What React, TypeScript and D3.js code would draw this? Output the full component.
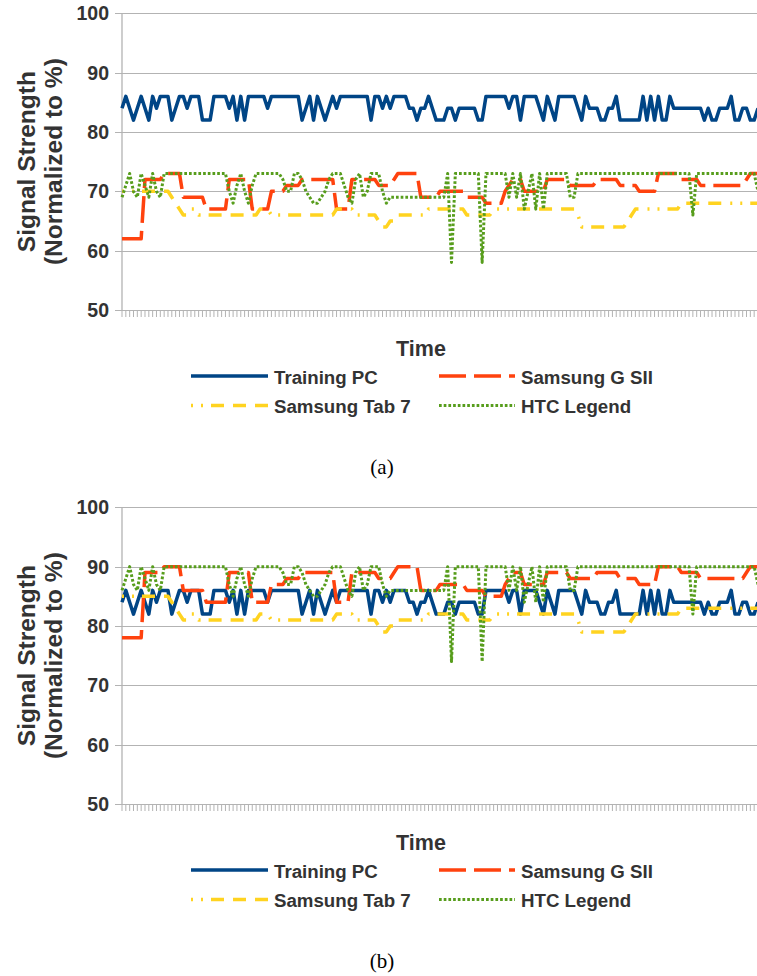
import React from 'react';
import * as d3 from 'd3';

// Signal strength (normalized to %) sampled over time for four devices.
const yTicks = [50, 60, 70, 80, 90, 100];
const seriesNames = ['Training PC', 'Samsung G SII', 'Samsung Tab 7', 'HTC Legend'];
const captions = ['(a)', '(b)'];

const trainingPC = [
  84, 86, 84, 82, 84, 86, 84, 82, 86, 84,
  86, 86, 86, 82, 84, 86, 86, 84, 86, 86,
  86, 82, 82, 82, 86, 86, 86, 86, 84, 86,
  82, 86, 82, 86, 86, 86, 86, 86, 84, 86,
  86, 86, 86, 86, 86, 86, 86, 82, 84, 86,
  82, 86, 84, 82, 84, 86, 84, 86, 86, 86,
  86, 86, 86, 86, 86, 82, 86, 86, 84, 86,
  84, 86, 86, 86, 86, 84, 84, 82, 84, 84,
  86, 84, 82, 82, 82, 84, 84, 82, 84, 84,
  84, 84, 84, 82, 82, 86, 86, 86, 86, 86,
  86, 84, 86, 86, 82, 86, 86, 86, 86, 84,
  82, 86, 84, 82, 86, 86, 86, 86, 86, 84,
  82, 86, 84, 84, 84, 82, 82, 84, 84, 86,
  82, 82, 82, 82, 82, 82, 86, 82, 86, 82,
  86, 82, 82, 86, 84, 84, 84, 84, 84, 84,
  84, 84, 82, 84, 82, 82, 84, 84, 84, 86,
  82, 82, 84, 84, 82, 82, 84,
];

const samsungGSIIa = [
  62, 62, 62, 62, 62, 62, 72, 72, 72, 72,
  72, 73, 73, 73, 73, 73, 69, 69, 69, 69,
  69, 69, 67, 67, 67, 67, 67, 67, 72, 72,
  72, 72, 72, 72, 67, 67, 67, 67, 67, 70,
  70, 70, 70, 71, 71, 71, 71, 72, 72, 72,
  72, 72, 72, 72, 72, 72, 67, 67, 67, 67,
  72, 72, 72, 72, 72, 72, 72, 71, 71, 71,
  71, 72, 73, 73, 73, 73, 73, 73, 69, 69,
  69, 69, 69, 70, 70, 70, 70, 70, 70, 70,
  69, 69, 69, 69, 69, 68, 68, 68, 68, 68,
  70, 71, 72, 72, 72, 70, 70, 70, 70, 70,
  70, 72, 72, 72, 72, 72, 72, 71, 71, 71,
  71, 71, 71, 71, 72, 72, 72, 72, 72, 72,
  71, 71, 71, 71, 71, 70, 70, 70, 70, 70,
  73, 73, 73, 73, 73, 73, 72, 72, 72, 72,
  72, 71, 71, 71, 71, 71, 71, 71, 71, 71,
  71, 71, 71, 72, 73, 73, 73,
];

const samsungTab7a = [
  70, 70, 70, 70, 70, 70, 70, 70, 70, 70,
  70, 70, 70, 69, 68, 67, 66, 66, 67, 67,
  66, 66, 66, 66, 66, 66, 66, 66, 66, 66,
  66, 66, 66, 66, 66, 66, 67, 67, 67, 66,
  66, 66, 66, 66, 66, 66, 66, 66, 66, 66,
  66, 66, 66, 66, 66, 66, 67, 67, 67, 67,
  67, 66, 66, 66, 66, 66, 66, 65, 64, 64,
  65, 65, 66, 66, 66, 66, 66, 66, 66, 66,
  67, 67, 67, 67, 67, 67, 67, 67, 67, 67,
  66, 66, 66, 66, 66, 66, 66, 67, 67, 67,
  67, 67, 67, 67, 67, 67, 67, 67, 67, 67,
  67, 67, 67, 67, 67, 67, 67, 67, 67, 66,
  64, 64, 64, 64, 64, 64, 64, 64, 64, 64,
  64, 64, 65, 66, 67, 67, 67, 67, 67, 67,
  67, 67, 67, 67, 67, 67, 68, 68, 68, 68,
  68, 68, 68, 68, 68, 68, 68, 68, 68, 68,
  68, 68, 68, 68, 68, 68, 68,
];

const htcLegendA = [
  69, 71, 73, 70, 69, 73, 71, 69, 73, 70,
  69, 73, 73, 73, 73, 73, 73, 73, 73, 73,
  73, 73, 73, 73, 73, 73, 73, 73, 70, 68,
  71, 73, 70, 68, 71, 73, 73, 73, 73, 73,
  73, 73, 72, 70, 70, 73, 73, 72, 70, 69,
  68, 68, 69, 70, 72, 73, 73, 73, 71, 69,
  68, 72, 73, 69, 70, 73, 73, 73, 70, 68,
  69, 69, 69, 69, 69, 69, 69, 69, 69, 69,
  69, 69, 69, 69, 69, 73, 58, 73, 73, 73,
  73, 73, 73, 73, 58, 73, 73, 73, 73, 73,
  73, 69, 73, 69, 73, 67, 70, 73, 67, 73,
  67, 73, 73, 73, 73, 73, 73, 69, 69, 73,
  73, 73, 73, 73, 73, 73, 73, 73, 73, 73,
  73, 73, 73, 73, 73, 73, 73, 73, 73, 73,
  73, 73, 73, 73, 73, 73, 73, 73, 73, 66,
  73, 73, 73, 73, 73, 73, 73, 73, 73, 73,
  73, 73, 73, 73, 73, 73, 70,
];

const samsungGSIIb = [
  78, 78, 78, 78, 78, 78, 89, 89, 89, 89,
  89, 90, 90, 90, 90, 90, 86, 86, 86, 86,
  86, 86, 84, 84, 84, 84, 84, 84, 89, 89,
  89, 89, 89, 89, 84, 84, 84, 84, 84, 87,
  87, 87, 87, 88, 88, 88, 88, 89, 89, 89,
  89, 89, 89, 89, 89, 89, 84, 84, 84, 84,
  89, 89, 89, 89, 89, 89, 89, 88, 88, 88,
  88, 89, 90, 90, 90, 90, 90, 90, 86, 86,
  86, 86, 86, 87, 87, 87, 87, 87, 87, 87,
  86, 86, 86, 86, 86, 85, 85, 85, 85, 85,
  87, 88, 89, 89, 89, 87, 87, 87, 87, 87,
  87, 89, 89, 89, 89, 89, 89, 88, 88, 88,
  88, 88, 88, 88, 89, 89, 89, 89, 89, 89,
  88, 88, 88, 88, 88, 87, 87, 87, 87, 87,
  90, 90, 90, 90, 90, 90, 89, 89, 89, 89,
  89, 88, 88, 88, 88, 88, 88, 88, 88, 88,
  88, 88, 88, 89, 90, 90, 90,
];

const samsungTab7b = [
  85, 85, 85, 85, 85, 85, 85, 85, 85, 85,
  85, 85, 85, 84, 83, 82, 81, 81, 82, 82,
  81, 81, 81, 81, 81, 81, 81, 81, 81, 81,
  81, 81, 81, 81, 81, 81, 82, 82, 82, 81,
  81, 81, 81, 81, 81, 81, 81, 81, 81, 81,
  81, 81, 81, 81, 81, 81, 82, 82, 82, 82,
  82, 81, 81, 81, 81, 81, 81, 80, 79, 79,
  80, 80, 81, 81, 81, 81, 81, 81, 81, 81,
  82, 82, 82, 82, 82, 82, 82, 82, 82, 82,
  81, 81, 81, 81, 81, 81, 81, 82, 82, 82,
  82, 82, 82, 82, 82, 82, 82, 82, 82, 82,
  82, 82, 82, 82, 82, 82, 82, 82, 82, 81,
  79, 79, 79, 79, 79, 79, 79, 79, 79, 79,
  79, 79, 80, 81, 82, 82, 82, 82, 82, 82,
  82, 82, 82, 82, 82, 82, 83, 83, 83, 83,
  83, 83, 83, 83, 83, 83, 83, 83, 83, 83,
  83, 83, 83, 83, 83, 83, 83,
];

const htcLegendB = [
  86, 88, 90, 87, 86, 90, 88, 86, 90, 87,
  86, 90, 90, 90, 90, 90, 90, 90, 90, 90,
  90, 90, 90, 90, 90, 90, 90, 90, 87, 85,
  88, 90, 87, 85, 88, 90, 90, 90, 90, 90,
  90, 90, 89, 87, 87, 90, 90, 89, 87, 86,
  85, 85, 86, 87, 89, 90, 90, 90, 88, 86,
  85, 89, 90, 86, 87, 90, 90, 90, 87, 85,
  86, 86, 86, 86, 86, 86, 86, 86, 86, 86,
  86, 86, 86, 86, 86, 90, 74, 90, 90, 90,
  90, 90, 90, 90, 74, 90, 90, 90, 90, 90,
  90, 86, 90, 86, 90, 84, 87, 90, 84, 90,
  84, 90, 90, 90, 90, 90, 90, 86, 86, 90,
  90, 90, 90, 90, 90, 90, 90, 90, 90, 90,
  90, 90, 90, 90, 90, 90, 90, 90, 90, 90,
  90, 90, 90, 90, 90, 90, 90, 90, 90, 82,
  90, 90, 90, 90, 90, 90, 90, 90, 90, 90,
  90, 90, 90, 90, 90, 90, 87,
];

const panelA = [trainingPC, samsungGSIIa, samsungTab7a, htcLegendA];
const panelB = [trainingPC, samsungGSIIb, samsungTab7b, htcLegendB];

const lineStyles = [
  { color: '#004586', width: 3.5, dash: undefined as string | undefined },
  { color: '#ff420e', width: 3.5, dash: '27 8' },
  { color: '#ffd320', width: 3.5, dash: '2 8 2 8 13 9 13 9 13 9' },
  { color: '#579d1c', width: 3, dash: '2.7 2' },
];

const SANS = '"Liberation Sans", Arial, sans-serif';
const TEXT = '#333333';
const GRID = '#b3b3b3';

function Panel({ top, series, caption }: { top: number; series: number[][]; caption: string }) {
  const n = series[0].length;
  const x = d3.scaleLinear().domain([0, n - 1]).range([122, 758]);
  const y = d3.scaleLinear().domain([50, 100]).range([top + 310, top + 13.3]);
  const line = d3
    .line<number>()
    .x((_, i) => x(i))
    .y((v) => y(v));
  const idx = d3.range(n);
  const plotTop = y(100);
  const plotBottom = y(50);
  const midY = (plotTop + plotBottom) / 2;

  const legendRows = [
    { y: top + 376, ty: top + 383.5 },
    { y: top + 405.5, ty: top + 413 },
  ];
  const legendCols = [
    { x0: 191, x1: 268, tx: 274 },
    { x0: 439, x1: 515, tx: 521 },
  ];

  return (
    <g>
      {/* horizontal gridlines */}
      {yTicks.map((t) => (
        <line
          key={'g' + t}
          x1={115}
          x2={760}
          y1={Math.round(y(t)) + 0.5}
          y2={Math.round(y(t)) + 0.5}
          stroke={GRID}
          strokeWidth={1.2}
        />
      ))}
      {/* y axis line */}
      <line x1={122} x2={122} y1={plotTop} y2={plotBottom} stroke={GRID} strokeWidth={1.3} />
      {/* category ticks */}
      {idx.map((i) => (
        <line
          key={'t' + i}
          x1={x(i)}
          x2={x(i)}
          y1={plotBottom}
          y2={plotBottom + 7}
          stroke={GRID}
          strokeWidth={1}
        />
      ))}
      {/* y tick labels */}
      {yTicks.map((t) => (
        <text
          key={'l' + t}
          x={109}
          y={y(t)}
          dy="0.36em"
          textAnchor="end"
          fontFamily={SANS}
          fontWeight="bold"
          fontSize={19.5}
          fill={TEXT}
        >
          {t}
        </text>
      ))}
      {/* y axis title */}
      <text
        transform={`translate(34.5,${midY}) rotate(-90)`}
        textAnchor="middle"
        fontFamily={SANS}
        fontWeight="bold"
        fontSize={24.5}
        fill={TEXT}
      >
        Signal Strength
      </text>
      <text
        transform={`translate(62,${midY}) rotate(-90)`}
        textAnchor="middle"
        fontFamily={SANS}
        fontWeight="bold"
        fontSize={24.5}
        fill={TEXT}
      >
        (Normalized to %)
      </text>
      {/* series */}
      {series.map((s, k) => (
        <path
          key={'s' + k}
          d={line(s) || ''}
          fill="none"
          stroke={lineStyles[k].color}
          strokeWidth={lineStyles[k].width}
          strokeDasharray={lineStyles[k].dash}
          strokeLinejoin="round"
        />
      ))}
      {/* x axis title */}
      <text
        x={421}
        y={top + 356}
        textAnchor="middle"
        fontFamily={SANS}
        fontWeight="bold"
        fontSize={21.5}
        fill={TEXT}
      >
        Time
      </text>
      {/* legend */}
      {seriesNames.map((name, k) => {
        const row = legendRows[Math.floor(k / 2)];
        const col = legendCols[k % 2];
        return (
          <g key={'lg' + k}>
            <line
              x1={col.x0}
              x2={col.x1}
              y1={row.y}
              y2={row.y}
              stroke={lineStyles[k].color}
              strokeWidth={lineStyles[k].width}
              strokeDasharray={lineStyles[k].dash}
            />
            <text
              x={col.tx}
              y={row.ty}
              fontFamily={SANS}
              fontWeight="bold"
              fontSize={18.7}
              fill={TEXT}
            >
              {name}
            </text>
          </g>
        );
      })}
      {/* panel caption */}
      <text
        x={382}
        y={top + 474}
        textAnchor="middle"
        fontFamily='"Liberation Serif", "DejaVu Serif", serif'
        fontSize={21}
        fill="#000"
      >
        {caption}
      </text>
    </g>
  );
}

export default function App() {
  return (
    <svg
      width={757}
      height={976}
      viewBox="0 0 757 976"
      style={{ position: 'absolute', left: 0, top: 0, background: '#fff' }}
    >
      <rect width={757} height={976} fill="#fff" />
      <Panel top={0} series={panelA} caption={captions[0]} />
      <Panel top={494} series={panelB} caption={captions[1]} />
    </svg>
  );
}
